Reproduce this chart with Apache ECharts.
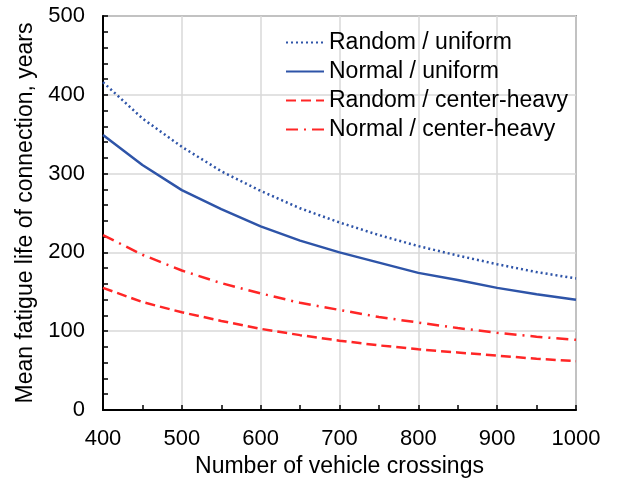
<!DOCTYPE html>
<html>
<head>
<meta charset="utf-8">
<script src="https://cdn.jsdelivr.net/npm/echarts@6/dist/echarts.min.js"></script>
<style>
  html, body { margin: 0; padding: 0; background: #fff; }
  #chart { width: 617px; height: 483px; }
</style>
</head>
<body>
<div id="chart"></div>
<script>
// vehicle crossings (x) and mean fatigue life in years
const crossings = [400, 450, 500, 550, 600, 650, 700, 750, 800, 850, 900, 950, 1000]
const randomUniform = [416, 370, 334, 303, 278, 256, 238, 222, 208, 196, 185, 175, 167]
const normalUniform = [349, 311, 279, 255, 233, 215, 200, 187, 174, 165, 155, 147, 140]
const randomCenter = [155, 137, 124, 113, 103, 95, 88, 82, 77, 73, 69, 65, 62]
const normalCenter = [222, 197, 177, 161, 148, 136, 127, 118, 111, 104, 98, 93, 89]

const FONT = 'Liberation Sans'
const BLUE = '#2e54a8'
const RED = '#ff2626'

const pairs = (ys) => crossings.map((x, i) => [x, ys[i]])

const chart = echarts.init(document.getElementById('chart'))

const lineSeries = (name, ys, color, type) => ({
  name,
  type: 'line',
  data: pairs(ys),
  symbol: 'none',
  smooth: false,
  lineStyle: { color, width: 2.5, type },
  itemStyle: { color }
})

chart.setOption({
  animation: false,
  textStyle: { fontFamily: FONT, color: '#000' },
  grid: {
    left: 103,
    right: 41,
    top: 16,
    bottom: 72,
    show: true,
    borderColor: '#555',
    borderWidth: 1.5
  },
  legend: {
    orient: 'vertical',
    left: 280,
    top: 26,
    itemWidth: 38,
    itemHeight: 14,
    itemGap: 6,
    itemStyle: { opacity: 0 },
    textStyle: { fontFamily: FONT, fontSize: 23, color: '#000', lineHeight: 23 },
    data: ['Random / uniform', 'Normal / uniform', 'Random / center-heavy', 'Normal / center-heavy']
  },
  xAxis: {
    type: 'value',
    min: 400,
    max: 1000,
    interval: 100,
    name: 'Number of vehicle crossings',
    nameLocation: 'middle',
    nameGap: 45,
    nameTextStyle: { fontFamily: FONT, fontSize: 23, color: '#000' },
    axisLine: { lineStyle: { color: '#000', width: 2 } },
    axisTick: { inside: true, length: 5, lineStyle: { color: '#000', width: 1.5 } },
    minorTick: { show: true, splitNumber: 2, length: 5, lineStyle: { color: '#000', width: 1.5 } },
    axisLabel: { fontFamily: FONT, fontSize: 22, color: '#000', margin: 18, formatter: (v) => String(v) },
    splitLine: { show: true, lineStyle: { color: '#d9d9d9', width: 1.5 } }
  },
  yAxis: {
    type: 'value',
    min: 0,
    max: 500,
    interval: 100,
    name: 'Mean fatigue life of connection, years',
    nameLocation: 'middle',
    nameGap: 66,
    nameTextStyle: { fontFamily: FONT, fontSize: 23, color: '#000' },
    axisLine: { show: true, lineStyle: { color: '#000', width: 2 } },
    axisTick: { show: true, inside: true, length: 5, lineStyle: { color: '#000', width: 1.5 } },
    minorTick: { show: true, splitNumber: 5, length: 5, lineStyle: { color: '#000', width: 1.5 } },
    axisLabel: { fontFamily: FONT, fontSize: 22, color: '#000', margin: 18 },
    splitLine: { show: true, lineStyle: { color: '#d9d9d9', width: 1.5 } }
  },
  series: [
    lineSeries('Random / uniform', randomUniform, BLUE, [2, 3]),
    lineSeries('Normal / uniform', normalUniform, BLUE, 'solid'),
    lineSeries('Random / center-heavy', randomCenter, RED, [10, 5]),
    lineSeries('Normal / center-heavy', normalCenter, RED, [12, 6, 2, 6])
  ]
})
</script>
</body>
</html>
